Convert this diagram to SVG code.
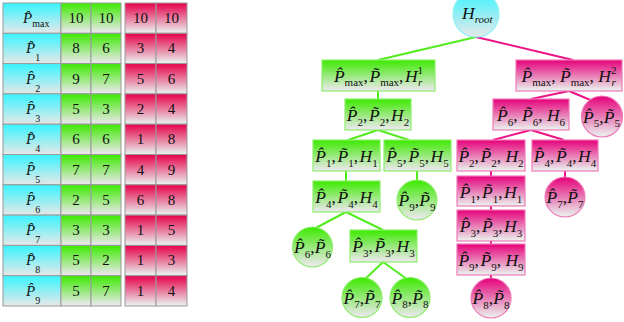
<svg xmlns="http://www.w3.org/2000/svg" width="624" height="322" viewBox="0 0 624 322">
<defs>
<linearGradient id="gC" x1="0" y1="0" x2="0" y2="1"><stop offset="0" stop-color="#38F4FF"/><stop offset="1" stop-color="#E8E8E8"/></linearGradient>
<linearGradient id="gG" x1="0" y1="0" x2="0" y2="1"><stop offset="0" stop-color="#3CEA00"/><stop offset="0.95" stop-color="#E8E8E8"/></linearGradient>
<linearGradient id="gR" x1="0" y1="0" x2="0" y2="1"><stop offset="0" stop-color="#E6004A"/><stop offset="0.95" stop-color="#EAEAEA"/></linearGradient>
<linearGradient id="gP" x1="0" y1="0" x2="0" y2="1"><stop offset="0" stop-color="#E6007A"/><stop offset="0.95" stop-color="#EAEAEA"/></linearGradient>
</defs>
<style>
.t{font-family:"Liberation Serif","Times New Roman",serif;fill:#111}
.tb{font-size:15px}
.tr{font-size:17.5px}
.i{font-style:italic}
.s{font-size:10px}
.s2{font-size:11px}
.c{letter-spacing:1.5px}
.cell{stroke:#9a9a9a;stroke-width:1}
.cy{fill:url(#gC)}
.gr{fill:url(#gG)}
.rd{fill:url(#gR)}
.gn{fill:url(#gG);stroke:#8CEE6A;stroke-width:1.2}
.pn{fill:url(#gP);stroke:#F07AB8;stroke-width:1.2}
.rn{fill:url(#gC);stroke:#8EF2F6;stroke-width:1.2}
.lg{stroke:#52EC1E;stroke-width:2;fill:none}
.lp{stroke:#EC1486;stroke-width:2;fill:none}
</style>

<g id="table">
<g id="row0">
<rect class="cell cy" x="3" y="3" width="58" height="30.3"/>
<rect class="cell gr" x="61" y="3" width="30" height="30.3"/>
<rect class="cell gr" x="91" y="3" width="30" height="30.3"/>
<rect class="cell rd" x="125" y="3" width="31" height="30.3"/>
<rect class="cell rd" x="156" y="3" width="31" height="30.3"/>
<text class="t tb" x="23" y="23"><tspan class="i">P&#x302;</tspan><tspan class="s" dy="4">max</tspan></text>
<text class="t tb" x="76" y="23" text-anchor="middle">10</text>
<text class="t tb" x="106" y="23" text-anchor="middle">10</text>
<text class="t tb" x="140.5" y="23" text-anchor="middle">10</text>
<text class="t tb" x="171.5" y="23" text-anchor="middle">10</text>
</g>
<g id="row1">
<rect class="cell cy" x="3" y="33.3" width="58" height="30.3"/>
<rect class="cell gr" x="61" y="33.3" width="30" height="30.3"/>
<rect class="cell gr" x="91" y="33.3" width="30" height="30.3"/>
<rect class="cell rd" x="125" y="33.3" width="31" height="30.3"/>
<rect class="cell rd" x="156" y="33.3" width="31" height="30.3"/>
<text class="t tb" x="26" y="53.3"><tspan class="i">P&#x302;</tspan><tspan class="s" dy="8">1</tspan></text>
<text class="t tb" x="76" y="53.3" text-anchor="middle">8</text>
<text class="t tb" x="106" y="53.3" text-anchor="middle">6</text>
<text class="t tb" x="140.5" y="53.3" text-anchor="middle">3</text>
<text class="t tb" x="171.5" y="53.3" text-anchor="middle">4</text>
</g>
<g id="row2">
<rect class="cell cy" x="3" y="63.6" width="58" height="30.3"/>
<rect class="cell gr" x="61" y="63.6" width="30" height="30.3"/>
<rect class="cell gr" x="91" y="63.6" width="30" height="30.3"/>
<rect class="cell rd" x="125" y="63.6" width="31" height="30.3"/>
<rect class="cell rd" x="156" y="63.6" width="31" height="30.3"/>
<text class="t tb" x="26" y="83.6"><tspan class="i">P&#x302;</tspan><tspan class="s" dy="8">2</tspan></text>
<text class="t tb" x="76" y="83.6" text-anchor="middle">9</text>
<text class="t tb" x="106" y="83.6" text-anchor="middle">7</text>
<text class="t tb" x="140.5" y="83.6" text-anchor="middle">5</text>
<text class="t tb" x="171.5" y="83.6" text-anchor="middle">6</text>
</g>
<g id="row3">
<rect class="cell cy" x="3" y="93.9" width="58" height="30.3"/>
<rect class="cell gr" x="61" y="93.9" width="30" height="30.3"/>
<rect class="cell gr" x="91" y="93.9" width="30" height="30.3"/>
<rect class="cell rd" x="125" y="93.9" width="31" height="30.3"/>
<rect class="cell rd" x="156" y="93.9" width="31" height="30.3"/>
<text class="t tb" x="26" y="113.9"><tspan class="i">P&#x302;</tspan><tspan class="s" dy="8">3</tspan></text>
<text class="t tb" x="76" y="113.9" text-anchor="middle">5</text>
<text class="t tb" x="106" y="113.9" text-anchor="middle">3</text>
<text class="t tb" x="140.5" y="113.9" text-anchor="middle">2</text>
<text class="t tb" x="171.5" y="113.9" text-anchor="middle">4</text>
</g>
<g id="row4">
<rect class="cell cy" x="3" y="124.2" width="58" height="30.3"/>
<rect class="cell gr" x="61" y="124.2" width="30" height="30.3"/>
<rect class="cell gr" x="91" y="124.2" width="30" height="30.3"/>
<rect class="cell rd" x="125" y="124.2" width="31" height="30.3"/>
<rect class="cell rd" x="156" y="124.2" width="31" height="30.3"/>
<text class="t tb" x="26" y="144.2"><tspan class="i">P&#x302;</tspan><tspan class="s" dy="8">4</tspan></text>
<text class="t tb" x="76" y="144.2" text-anchor="middle">6</text>
<text class="t tb" x="106" y="144.2" text-anchor="middle">6</text>
<text class="t tb" x="140.5" y="144.2" text-anchor="middle">1</text>
<text class="t tb" x="171.5" y="144.2" text-anchor="middle">8</text>
</g>
<g id="row5">
<rect class="cell cy" x="3" y="154.5" width="58" height="30.3"/>
<rect class="cell gr" x="61" y="154.5" width="30" height="30.3"/>
<rect class="cell gr" x="91" y="154.5" width="30" height="30.3"/>
<rect class="cell rd" x="125" y="154.5" width="31" height="30.3"/>
<rect class="cell rd" x="156" y="154.5" width="31" height="30.3"/>
<text class="t tb" x="26" y="174.5"><tspan class="i">P&#x302;</tspan><tspan class="s" dy="8">5</tspan></text>
<text class="t tb" x="76" y="174.5" text-anchor="middle">7</text>
<text class="t tb" x="106" y="174.5" text-anchor="middle">7</text>
<text class="t tb" x="140.5" y="174.5" text-anchor="middle">4</text>
<text class="t tb" x="171.5" y="174.5" text-anchor="middle">9</text>
</g>
<g id="row6">
<rect class="cell cy" x="3" y="184.8" width="58" height="30.3"/>
<rect class="cell gr" x="61" y="184.8" width="30" height="30.3"/>
<rect class="cell gr" x="91" y="184.8" width="30" height="30.3"/>
<rect class="cell rd" x="125" y="184.8" width="31" height="30.3"/>
<rect class="cell rd" x="156" y="184.8" width="31" height="30.3"/>
<text class="t tb" x="26" y="204.8"><tspan class="i">P&#x302;</tspan><tspan class="s" dy="8">6</tspan></text>
<text class="t tb" x="76" y="204.8" text-anchor="middle">2</text>
<text class="t tb" x="106" y="204.8" text-anchor="middle">5</text>
<text class="t tb" x="140.5" y="204.8" text-anchor="middle">6</text>
<text class="t tb" x="171.5" y="204.8" text-anchor="middle">8</text>
</g>
<g id="row7">
<rect class="cell cy" x="3" y="215.1" width="58" height="30.3"/>
<rect class="cell gr" x="61" y="215.1" width="30" height="30.3"/>
<rect class="cell gr" x="91" y="215.1" width="30" height="30.3"/>
<rect class="cell rd" x="125" y="215.1" width="31" height="30.3"/>
<rect class="cell rd" x="156" y="215.1" width="31" height="30.3"/>
<text class="t tb" x="26" y="235.1"><tspan class="i">P&#x302;</tspan><tspan class="s" dy="8">7</tspan></text>
<text class="t tb" x="76" y="235.1" text-anchor="middle">3</text>
<text class="t tb" x="106" y="235.1" text-anchor="middle">3</text>
<text class="t tb" x="140.5" y="235.1" text-anchor="middle">1</text>
<text class="t tb" x="171.5" y="235.1" text-anchor="middle">5</text>
</g>
<g id="row8">
<rect class="cell cy" x="3" y="245.4" width="58" height="30.3"/>
<rect class="cell gr" x="61" y="245.4" width="30" height="30.3"/>
<rect class="cell gr" x="91" y="245.4" width="30" height="30.3"/>
<rect class="cell rd" x="125" y="245.4" width="31" height="30.3"/>
<rect class="cell rd" x="156" y="245.4" width="31" height="30.3"/>
<text class="t tb" x="26" y="265.4"><tspan class="i">P&#x302;</tspan><tspan class="s" dy="8">8</tspan></text>
<text class="t tb" x="76" y="265.4" text-anchor="middle">5</text>
<text class="t tb" x="106" y="265.4" text-anchor="middle">2</text>
<text class="t tb" x="140.5" y="265.4" text-anchor="middle">1</text>
<text class="t tb" x="171.5" y="265.4" text-anchor="middle">3</text>
</g>
<g id="row9">
<rect class="cell cy" x="3" y="275.7" width="58" height="30.3"/>
<rect class="cell gr" x="61" y="275.7" width="30" height="30.3"/>
<rect class="cell gr" x="91" y="275.7" width="30" height="30.3"/>
<rect class="cell rd" x="125" y="275.7" width="31" height="30.3"/>
<rect class="cell rd" x="156" y="275.7" width="31" height="30.3"/>
<text class="t tb" x="26" y="295.7"><tspan class="i">P&#x302;</tspan><tspan class="s" dy="8">9</tspan></text>
<text class="t tb" x="76" y="295.7" text-anchor="middle">5</text>
<text class="t tb" x="106" y="295.7" text-anchor="middle">7</text>
<text class="t tb" x="140.5" y="295.7" text-anchor="middle">1</text>
<text class="t tb" x="171.5" y="295.7" text-anchor="middle">4</text>
</g>
</g>

<g id="connectors">
<line class="lg" x1="476" y1="37" x2="378" y2="60"/>
<line class="lp" x1="476" y1="37" x2="573" y2="60"/>
<line class="lg" x1="378" y1="91" x2="378" y2="99"/>
<line class="lg" x1="378" y1="130" x2="348" y2="140"/>
<line class="lg" x1="378" y1="130" x2="409" y2="140"/>
<line class="lg" x1="346" y1="171" x2="346" y2="181"/>
<line class="lg" x1="417" y1="171" x2="417" y2="185"/>
<line class="lg" x1="346" y1="212" x2="312" y2="230"/>
<line class="lg" x1="346" y1="212" x2="383" y2="230"/>
<line class="lg" x1="383" y1="262" x2="362" y2="282"/>
<line class="lg" x1="383" y1="262" x2="411" y2="282"/>
<line class="lp" x1="569" y1="91" x2="531" y2="99"/>
<line class="lp" x1="569" y1="91" x2="600" y2="104"/>
<line class="lp" x1="531" y1="130" x2="493" y2="140"/>
<line class="lp" x1="531" y1="130" x2="564" y2="140"/>
<line class="lp" x1="565" y1="171" x2="565" y2="182"/>
<line class="lp" x1="491" y1="171" x2="491" y2="176"/>
<line class="lp" x1="491" y1="206" x2="491" y2="210"/>
<line class="lp" x1="491" y1="241" x2="491" y2="244"/>
<line class="lp" x1="491" y1="275" x2="491" y2="282"/>
</g>

<g id="root">
<circle class="rn" cx="476" cy="14" r="23"/>
<text class="t tr" x="462" y="19"><tspan class="i">H</tspan><tspan class="s2 i" dy="4">root</tspan></text>
</g>

<g id="g-pmax">
<rect class="gn" x="322" y="60" width="113" height="31"/>
<text class="t tr" x="378.5" y="82" text-anchor="middle"><tspan class="i">P&#x302;</tspan><tspan class="s2" dy="4">max</tspan><tspan class="c" dy="-4">,</tspan><tspan class="i">P&#x303;</tspan><tspan class="s2" dy="4">max</tspan><tspan class="c" dy="-4">,</tspan><tspan class="i">H</tspan><tspan class="s2" dy="-8">1</tspan><tspan class="s2 i" dx="-5" dy="12">r</tspan></text>
</g>
<g id="g-p2">
<rect class="gn" x="345" y="99" width="66" height="31"/>
<text class="t tr" x="378" y="121" text-anchor="middle"><tspan class="i">P&#x302;</tspan><tspan class="s2" dy="4.5">2</tspan><tspan class="c" dy="-4.5">,</tspan><tspan class="i">P&#x303;</tspan><tspan class="s2" dy="4.5">2</tspan><tspan class="c" dy="-4.5">,</tspan><tspan class="i">H</tspan><tspan class="s2" dy="4.5">2</tspan></text>
</g>
<g id="g-p1">
<rect class="gn" x="313" y="140" width="67" height="31"/>
<text class="t tr" x="346.5" y="162" text-anchor="middle"><tspan class="i">P&#x302;</tspan><tspan class="s2" dy="4.5">1</tspan><tspan class="c" dy="-4.5">,</tspan><tspan class="i">P&#x303;</tspan><tspan class="s2" dy="4.5">1</tspan><tspan class="c" dy="-4.5">,</tspan><tspan class="i">H</tspan><tspan class="s2" dy="4.5">1</tspan></text>
</g>
<g id="g-p5">
<rect class="gn" x="384" y="140" width="67" height="31"/>
<text class="t tr" x="417.5" y="162" text-anchor="middle"><tspan class="i">P&#x302;</tspan><tspan class="s2" dy="4.5">5</tspan><tspan class="c" dy="-4.5">,</tspan><tspan class="i">P&#x303;</tspan><tspan class="s2" dy="4.5">5</tspan><tspan class="c" dy="-4.5">,</tspan><tspan class="i">H</tspan><tspan class="s2" dy="4.5">5</tspan></text>
</g>
<g id="g-p4">
<rect class="gn" x="313" y="181" width="67" height="31"/>
<text class="t tr" x="346.5" y="203" text-anchor="middle"><tspan class="i">P&#x302;</tspan><tspan class="s2" dy="4.5">4</tspan><tspan class="c" dy="-4.5">,</tspan><tspan class="i">P&#x303;</tspan><tspan class="s2" dy="4.5">4</tspan><tspan class="c" dy="-4.5">,</tspan><tspan class="i">H</tspan><tspan class="s2" dy="4.5">4</tspan></text>
</g>
<g id="g-c9">
<circle class="gn" cx="417" cy="200" r="20"/>
<text class="t tr" x="417" y="206" text-anchor="middle"><tspan class="i">P&#x302;</tspan><tspan class="s2" dy="4.5">9</tspan><tspan dy="-4.5">,</tspan><tspan class="i">P&#x303;</tspan><tspan class="s2" dy="4.5">9</tspan></text>
</g>
<g id="g-c6">
<circle class="gn" cx="312.5" cy="247" r="20"/>
<text class="t tr" x="312.5" y="253" text-anchor="middle"><tspan class="i">P&#x302;</tspan><tspan class="s2" dy="4.5">6</tspan><tspan dy="-4.5">,</tspan><tspan class="i">P&#x303;</tspan><tspan class="s2" dy="4.5">6</tspan></text>
</g>
<g id="g-p3">
<rect class="gn" x="350" y="230" width="67" height="32"/>
<text class="t tr" x="383.5" y="252" text-anchor="middle"><tspan class="i">P&#x302;</tspan><tspan class="s2" dy="4.5">3</tspan><tspan class="c" dy="-4.5">,</tspan><tspan class="i">P&#x303;</tspan><tspan class="s2" dy="4.5">3</tspan><tspan class="c" dy="-4.5">,</tspan><tspan class="i">H</tspan><tspan class="s2" dy="4.5">3</tspan></text>
</g>
<g id="g-c7">
<circle class="gn" cx="362" cy="297.5" r="20"/>
<text class="t tr" x="362" y="303.5" text-anchor="middle"><tspan class="i">P&#x302;</tspan><tspan class="s2" dy="4.5">7</tspan><tspan dy="-4.5">,</tspan><tspan class="i">P&#x303;</tspan><tspan class="s2" dy="4.5">7</tspan></text>
</g>
<g id="g-c8">
<circle class="gn" cx="410" cy="297.5" r="20"/>
<text class="t tr" x="410" y="303.5" text-anchor="middle"><tspan class="i">P&#x302;</tspan><tspan class="s2" dy="4.5">8</tspan><tspan dy="-4.5">,</tspan><tspan class="i">P&#x303;</tspan><tspan class="s2" dy="4.5">8</tspan></text>
</g>

<g id="p-pmax">
<rect class="pn" x="516" y="60" width="106" height="31"/>
<text class="t tr" x="569" y="82" text-anchor="middle"><tspan class="i">P&#x302;</tspan><tspan class="s2" dy="4">max</tspan><tspan dy="-4">, </tspan><tspan class="i">P&#x303;</tspan><tspan class="s2" dy="4">max</tspan><tspan dy="-4">, </tspan><tspan class="i">H</tspan><tspan class="s2" dy="-8">2</tspan><tspan class="s2 i" dx="-5" dy="12">r</tspan></text>
</g>
<g id="p-c5">
<circle class="pn" cx="602" cy="116.5" r="20.5"/>
<text class="t tr" x="601.5" y="122.5" text-anchor="middle"><tspan class="i">P&#x302;</tspan><tspan class="s2" dy="4.5">5</tspan><tspan dy="-4.5">,</tspan><tspan class="i">P&#x303;</tspan><tspan class="s2" dy="4.5">5</tspan></text>
</g>
<g id="p-p6">
<rect class="pn" x="493" y="99" width="76" height="31"/>
<text class="t tr" x="531" y="121" text-anchor="middle"><tspan class="i">P&#x302;</tspan><tspan class="s2" dy="4.5">6</tspan><tspan dy="-4.5">, </tspan><tspan class="i">P&#x303;</tspan><tspan class="s2" dy="4.5">6</tspan><tspan dy="-4.5">, </tspan><tspan class="i">H</tspan><tspan class="s2" dy="4.5">6</tspan></text>
</g>
<g id="p-p2">
<rect class="pn" x="457" y="140" width="68" height="31"/>
<text class="t tr" x="491" y="162" text-anchor="middle"><tspan class="i">P&#x302;</tspan><tspan class="s2" dy="4.5">2</tspan><tspan class="c" dy="-4.5">,</tspan><tspan class="i">P&#x303;</tspan><tspan class="s2" dy="4.5">2</tspan><tspan dy="-4.5">, </tspan><tspan class="i">H</tspan><tspan class="s2" dy="4.5">2</tspan></text>
</g>
<g id="p-p4">
<rect class="pn" x="532" y="140" width="66" height="31"/>
<text class="t tr" x="565" y="162" text-anchor="middle"><tspan class="i">P&#x302;</tspan><tspan class="s2" dy="4.5">4</tspan><tspan class="c" dy="-4.5">,</tspan><tspan class="i">P&#x303;</tspan><tspan class="s2" dy="4.5">4</tspan><tspan class="c" dy="-4.5">,</tspan><tspan class="i">H</tspan><tspan class="s2" dy="4.5">4</tspan></text>
</g>
<g id="p-c7">
<circle class="pn" cx="565" cy="197" r="20"/>
<text class="t tr" x="565" y="203" text-anchor="middle"><tspan class="i">P&#x302;</tspan><tspan class="s2" dy="4.5">7</tspan><tspan dy="-4.5">,</tspan><tspan class="i">P&#x303;</tspan><tspan class="s2" dy="4.5">7</tspan></text>
</g>
<g id="p-p1">
<rect class="pn" x="457" y="176" width="68" height="30"/>
<text class="t tr" x="491" y="198" text-anchor="middle"><tspan class="i">P&#x302;</tspan><tspan class="s2" dy="4.5">1</tspan><tspan class="c" dy="-4.5">,</tspan><tspan class="i">P&#x303;</tspan><tspan class="s2" dy="4.5">1</tspan><tspan class="c" dy="-4.5">,</tspan><tspan class="i">H</tspan><tspan class="s2" dy="4.5">1</tspan></text>
</g>
<g id="p-p3">
<rect class="pn" x="457" y="210" width="68" height="31"/>
<text class="t tr" x="491" y="232" text-anchor="middle"><tspan class="i">P&#x302;</tspan><tspan class="s2" dy="4.5">3</tspan><tspan class="c" dy="-4.5">,</tspan><tspan class="i">P&#x303;</tspan><tspan class="s2" dy="4.5">3</tspan><tspan class="c" dy="-4.5">,</tspan><tspan class="i">H</tspan><tspan class="s2" dy="4.5">3</tspan></text>
</g>
<g id="p-p9">
<rect class="pn" x="457" y="244" width="68" height="31"/>
<text class="t tr" x="491" y="266" text-anchor="middle"><tspan class="i">P&#x302;</tspan><tspan class="s2" dy="4.5">9</tspan><tspan class="c" dy="-4.5">,</tspan><tspan class="i">P&#x303;</tspan><tspan class="s2" dy="4.5">9</tspan><tspan dy="-4.5">, </tspan><tspan class="i">H</tspan><tspan class="s2" dy="4.5">9</tspan></text>
</g>
<g id="p-c8">
<circle class="pn" cx="491" cy="298" r="20"/>
<text class="t tr" x="491" y="304" text-anchor="middle"><tspan class="i">P&#x302;</tspan><tspan class="s2" dy="4.5">8</tspan><tspan dy="-4.5">,</tspan><tspan class="i">P&#x303;</tspan><tspan class="s2" dy="4.5">8</tspan></text>
</g>
</svg>
